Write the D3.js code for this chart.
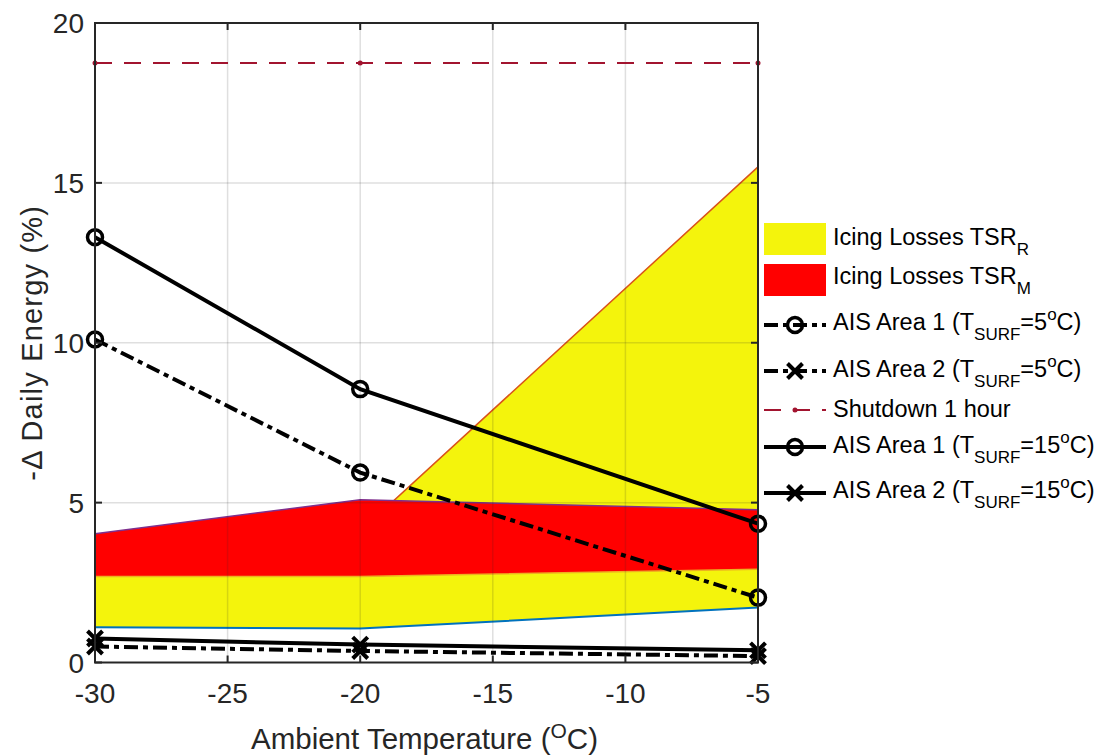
<!DOCTYPE html>
<html>
<head>
<meta charset="utf-8">
<script src="https://cdn.jsdelivr.net/npm/d3@7"></script>
<style>
  body { margin: 0; background: #fff; }
  svg { display: block; font-family: 'Liberation Sans', Arial, sans-serif; }
</style>
</head>
<body>
<svg width="1099" height="756"></svg>
<script>
// Data
const temps = [-30, -20, -5];
const tsrRLow = [1.1, 1.06, 1.72];
const tsrRHigh = [3.3, 4.1, 15.5];
const tsrMLow = [2.69, 2.69, 2.92];
const tsrMHigh = [4.03, 5.09, 4.78];
const shutdown = [18.75, 18.75, 18.75];
const ais1_5 = [10.1, 5.94, 2.03];
const ais2_5 = [0.5, 0.36, 0.2];
const ais1_15 = [13.3, 8.55, 4.34];
const ais2_15 = [0.75, 0.56, 0.38];
const xTicks = [-30, -25, -20, -15, -10, -5];
const yTicks = [0, 5, 10, 15, 20];

// plot box
const box = { left: 95, right: 758, top: 23, bottom: 662.5 };

const x = d3.scaleLinear().domain([-30, -5]).range([box.left, box.right]);
const y = d3.scaleLinear().domain([0, 20]).range([box.bottom, box.top]);

const svg = d3.select('svg');
const plot = svg.append('g');

const yellow = '#f4f40c';
const red = '#ff0000';

function band(lo, hi) {
  return d3.area().
  x((d, i) => x(temps[i])).
  y0((d, i) => y(lo[i])).
  y1((d, i) => y(hi[i]))(temps);
}
function path(vals) {
  return d3.line().x((d, i) => x(temps[i])).y(d => y(d))(vals);
}

// filled areas
plot.append('path').attr('d', band(tsrRLow, tsrRHigh)).attr('fill', yellow);
plot.append('path').attr('d', path(tsrRLow)).attr('fill', 'none').attr('stroke', '#0072bd').attr('stroke-width', 2);
plot.append('path').attr('d', path(tsrRHigh)).attr('fill', 'none').attr('stroke', '#d95319').attr('stroke-width', 1.5);
plot.append('path').attr('d', band(tsrMLow, tsrMHigh)).attr('fill', red);
plot.append('path').attr('d', path(tsrMLow)).attr('fill', 'none').attr('stroke', '#edb120').attr('stroke-width', 1.5);
plot.append('path').attr('d', path(tsrMHigh)).attr('fill', 'none').attr('stroke', '#7e2f8e').attr('stroke-width', 1.5);

// grid
const grid = plot.append('g').attr('stroke', 'rgba(38,38,38,0.15)').attr('stroke-width', 1.5);
xTicks.slice(1, -1).forEach(t => {
  grid.append('line').attr('x1', x(t)).attr('x2', x(t)).attr('y1', box.top).attr('y2', box.bottom);
});
yTicks.slice(1, -1).forEach(t => {
  grid.append('line').attr('x1', box.left).attr('x2', box.right).attr('y1', y(t)).attr('y2', y(t));
});

// series lines
const dashDot = '14,5,5,5';
function series(vals, dash, marker) {
  const g = plot.append('g');
  g.append('path').attr('d', path(vals)).
  attr('fill', 'none').attr('stroke', '#000').attr('stroke-width', 4).
  attr('stroke-dasharray', dash);
  vals.forEach((v, i) => drawMarker(g, x(temps[i]), y(v), marker));
}
function drawMarker(g, cx, cy, marker) {
  if (marker === 'o') {
    g.append('circle').attr('cx', cx).attr('cy', cy).attr('r', 7.5).
    attr('fill', 'none').attr('stroke', '#000').attr('stroke-width', 3.5);
  } else if (marker === 'x') {
    const s = 7.5;
    g.append('path').attr('d', `M${cx - s},${cy - s}L${cx + s},${cy + s}M${cx - s},${cy + s}L${cx + s},${cy - s}`).
    attr('stroke', '#000').attr('stroke-width', 4);
  } else if (marker === '.') {
    g.append('circle').attr('cx', cx).attr('cy', cy).attr('r', 2.5).attr('fill', '#a2142f');
  }
}

// shutdown line
plot.append('path').attr('d', path(shutdown)).
attr('fill', 'none').attr('stroke', '#a2142f').attr('stroke-width', 2).
attr('stroke-dasharray', '17,12');
shutdown.forEach((v, i) => drawMarker(plot, x(temps[i]), y(v), '.'));

series(ais1_5, dashDot, 'o');
series(ais2_5, dashDot, 'x');
series(ais1_15, null, 'o');
series(ais2_15, null, 'x');

// axes box and ticks
const axis = svg.append('g').attr('stroke', '#262626').attr('stroke-width', 2).attr('fill', 'none');
axis.append('rect').attr('x', box.left).attr('y', box.top).
attr('width', box.right - box.left).attr('height', box.bottom - box.top);
xTicks.forEach(t => {
  axis.append('line').attr('x1', x(t)).attr('x2', x(t)).attr('y1', box.bottom).attr('y2', box.bottom - 7);
  axis.append('line').attr('x1', x(t)).attr('x2', x(t)).attr('y1', box.top).attr('y2', box.top + 7);
});
yTicks.forEach(t => {
  axis.append('line').attr('x1', box.left).attr('x2', box.left + 7).attr('y1', y(t)).attr('y2', y(t));
  axis.append('line').attr('x1', box.right).attr('x2', box.right - 7).attr('y1', y(t)).attr('y2', y(t));
});

// tick labels
const tickFont = 28;
svg.append('g').selectAll('text').data(xTicks).enter().append('text').
attr('x', d => x(d)).attr('y', 703).
attr('text-anchor', 'middle').attr('font-size', tickFont).attr('fill', '#262626').
text(d => d);
svg.append('g').selectAll('text').data(yTicks).enter().append('text').
attr('x', 84).attr('y', d => y(d) + 10).
attr('text-anchor', 'end').attr('font-size', tickFont).attr('fill', '#262626').
text(d => d);

// axis labels
const xLabel = svg.append('text').
attr('x', (box.left + box.right) / 2 - 2).attr('y', 749).
attr('text-anchor', 'middle').attr('font-size', 29.5).attr('fill', '#262626');
xLabel.append('tspan').text('Ambient Temperature (');
xLabel.append('tspan').attr('font-size', 21).attr('dy', -11).text('O');
xLabel.append('tspan').attr('dy', 11).text('C)');

svg.append('text').
attr('transform', `translate(42, ${(box.top + box.bottom) / 2}) rotate(-90)`).
attr('text-anchor', 'middle').attr('font-size', 29).attr('letter-spacing', 1.2).attr('fill', '#262626').
text('-\u0394 Daily Energy (%)');

// legend
const leg = svg.append('g');
leg.append('rect').attr('x', 760).attr('y', 215).attr('width', 339).attr('height', 295).attr('fill', '#fff');

const legX0 = 764, legX1 = 826, legTx = 833;
function legText(baseline, main, sub, after) {
  const t = leg.append('text').attr('x', legTx).attr('y', baseline).attr('font-size', 23.5).attr('fill', '#000');
  t.append('tspan').text(main);
  t.append('tspan').attr('font-size', 17).attr('dy', 10).text(sub);
  if (after) {
    t.append('tspan').attr('dy', -10).text('=' + after[0]);
    t.append('tspan').attr('font-size', 17).attr('dy', -10).text('o');
    t.append('tspan').attr('dy', 10).text('C)');
  }
}

leg.append('rect').attr('x', legX0).attr('y', 223).attr('width', legX1 - legX0).attr('height', 32).attr('fill', yellow);
legText(245, 'Icing Losses TSR', 'R');
leg.append('rect').attr('x', legX0).attr('y', 264).attr('width', legX1 - legX0).attr('height', 32).attr('fill', red);
legText(284, 'Icing Losses TSR', 'M');

function legLine(cy, dash, marker) {
  leg.append('line').attr('x1', legX0).attr('x2', legX1).attr('y1', cy).attr('y2', cy).
  attr('stroke', '#000').attr('stroke-width', 4).attr('stroke-dasharray', dash);
  drawMarker(leg, (legX0 + legX1) / 2, cy, marker);
}
legLine(325, dashDot, 'o');
legText(330, 'AIS Area 1 (T', 'SURF', ['5']);
legLine(371, dashDot, 'x');
legText(377, 'AIS Area 2 (T', 'SURF', ['5']);

leg.append('line').attr('x1', legX0).attr('x2', legX1).attr('y1', 410).attr('y2', 410).
attr('stroke', '#a2142f').attr('stroke-width', 2).attr('stroke-dasharray', '17,12');
drawMarker(leg, (legX0 + legX1) / 2, 410, '.');
leg.append('text').attr('x', legTx).attr('y', 417).attr('font-size', 23.5).attr('fill', '#000').text('Shutdown 1 hour');

legLine(447, null, 'o');
legText(453, 'AIS Area 1 (T', 'SURF', ['15']);
legLine(493, null, 'x');
legText(498, 'AIS Area 2 (T', 'SURF', ['15']);
</script>
</body>
</html>
